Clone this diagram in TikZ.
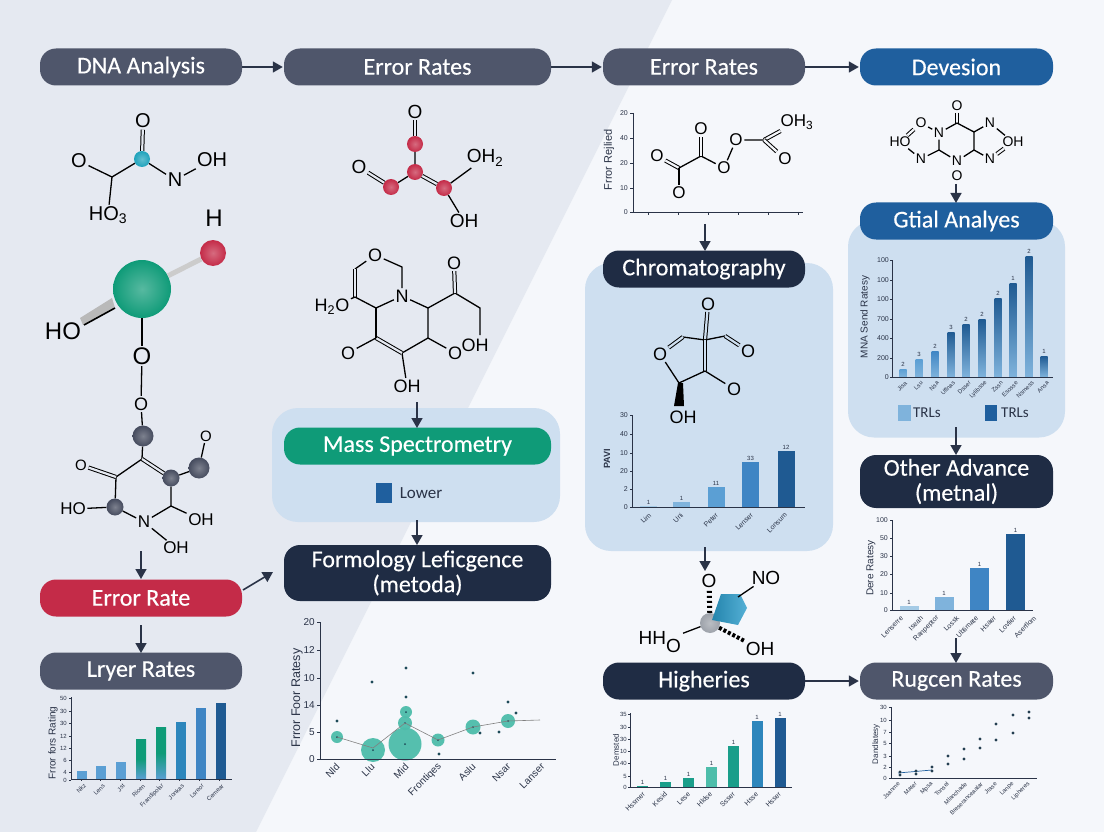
\documentclass[tikz,border=0pt]{standalone}
\usepackage{fontspec}
\setmainfont{Liberation Sans}
\setsansfont{Carlito}
\newfontfamily\pillfont[FakeBold=0.35]{Carlito}
\usepackage{xcolor}
\usepackage{tikz}
\usetikzlibrary{arrows.meta, shapes.geometric, calc}
\definecolor{bgleft}{HTML}{E5E9F1}
\definecolor{bgright}{HTML}{F5F7FB}
\definecolor{slatecolor}{HTML}{4F566B}
\definecolor{navycolor}{HTML}{1F2C44}
\definecolor{bluecolor}{HTML}{1F5F9E}
\definecolor{redcolor}{HTML}{C42B48}
\definecolor{greencolor}{HTML}{0F9B78}
\definecolor{panelcolor}{HTML}{CEDFF0}
\definecolor{arrowcolor}{HTML}{2A3347}
\definecolor{tealcolor}{HTML}{1A9E8A}
\definecolor{bubblecolor}{HTML}{4DBDAA}
\definecolor{barA}{HTML}{A5CBE6}
\definecolor{barB}{HTML}{7FB3DC}
\definecolor{barC}{HTML}{5B9FD4}
\definecolor{barD}{HTML}{3F85C4}
\definecolor{barE}{HTML}{1F5A92}
\definecolor{barF}{HTML}{2D86BC}
\definecolor{ballcolor}{HTML}{454B5E}
\definecolor{cyancolor}{HTML}{1FA3BC}
\definecolor{hexcolor}{HTML}{2A9CCB}
\definecolor{spherecolor}{HTML}{9DA2AA}
\newcommand{\fs}[1]{\fontsize{#1}{#1}\selectfont}
\tikzset{
  pill/.style={rectangle, rounded corners=16pt, text=white, minimum width=#1, minimum height=37pt, inner sep=0pt, font=\pillfont\fs{24}, align=center},
  panel/.style={rectangle, rounded corners=26pt, fill=panelcolor, inner sep=0pt},
  flow/.style={draw=arrowcolor, line width=1.6pt, -{Triangle[length=10pt,width=11pt]}},
  chem/.style={inner sep=1.5pt, text=black, font=\fs{#1}},
  bond/.style={draw=black, line width=1.3pt},
  dbond/.style={draw=black, line width=1pt, double=bgleft, double distance=2.2pt},
  atomball/.style={circle, inner sep=0pt, minimum size=#1},
  flatball/.style={inner color=#1!70!white, outer color=#1},
  axisline/.style={draw=arrowcolor, line width=0.8pt},
  ticktext/.style={inner sep=0pt, anchor=east, text=arrowcolor, font=\fs{7}},
  xlab/.style={inner sep=0pt, anchor=east, rotate=45, text=arrowcolor, font=\fs{7}},
  vallab/.style={inner sep=0pt, text=arrowcolor, font=\fs{6}},
  ylab/.style={inner sep=0pt, rotate=90, text=arrowcolor, font=\fs{#1}}
}
\begin{document}
\begin{tikzpicture}[x=1pt, y=-1pt]
    \useasboundingbox (0,0) rectangle (1104,832);

    % Background
    \fill[bgright] (0,0) rectangle (1104,832);
    \fill[bgleft] (0,0) -- (672,0) -- (256,832) -- (0,832) -- cycle;

    % Panels behind the pills
    \node[panel, minimum width=288pt, minimum height=114pt] (massbox) at (416,465) {};
    \node[panel, minimum width=248pt, minimum height=288pt] (chrombox) at (709,407) {};
    \node[panel, minimum width=217pt, minimum height=217pt] (gtialbox) at (956.5,329) {};

    % Pills
    \node[pill=202pt, fill=slatecolor] (dna) at (141,67) {DNA Analysis};
    \node[pill=267pt, fill=slatecolor] (errb) at (417.5,67) {Error Rates};
    \node[pill=202pt, fill=slatecolor] (errc) at (704,67) {Error Rates};
    \node[pill=193pt, fill=bluecolor] (dev) at (956.5,67) {Devesion};
    \node[pill=193pt, fill=bluecolor] (gtial) at (956.5,221) {Gtial Analyes};
    \node[pill=202pt, fill=navycolor] (chrom) at (704,269) {Chromatography};
    \node[pill=267pt, fill=greencolor] (mass) at (417.5,446) {Mass Spectrometry};
    \node[pill=202pt, fill=redcolor] (errrate) at (141,598) {Error Rate};
    \node[pill=202pt, fill=slatecolor] (lryer) at (141,671) {Lryer Rates};
    \node[pill=267pt, fill=navycolor, minimum height=56pt] (form) at (417.5,573) {Formology Leficgence\\[1pt](metoda)};
    \node[pill=193pt, fill=navycolor, minimum height=53pt] (other) at (956.5,481.5) {Other Advance\\[1pt](metnal)};
    \node[pill=202pt, fill=navycolor] (high) at (704,681) {Higheries};
    \node[pill=193pt, fill=slatecolor] (rugcen) at (956.5,681) {Rugcen Rates};

    % Free ends of the arrows
    \coordinate (arra) at (141,551);
    \coordinate (arrb) at (141,625);
    \coordinate (arrc) at (273,572);
    \coordinate (arrd) at (417,402);
    \coordinate (arre) at (417,520);
    \coordinate (arrf) at (417,545);
    \coordinate (arrg) at (705,224);
    \coordinate (arrh) at (705,547);
    \coordinate (arri) at (705,571);
    \coordinate (arrj) at (956,184);
    \coordinate (arrk) at (956,427);
    \coordinate (arrl) at (956,638);
    \coordinate (arrm) at (417,428);
    \coordinate (arrn) at (705,251);
    \coordinate (arro) at (956,203);
    \coordinate (arrp) at (956,455);
    \coordinate (arrq) at (956,663);
    \coordinate (arrs) at (243,590);
    \coordinate (arrt) at (141,579);
    \coordinate (arru) at (141,653);

    % Arrows
    \draw[flow, shorten >=1pt] (dna) -- (errb);
    \draw[flow, shorten >=1pt] (errb) -- (errc);
    \draw[flow, shorten >=1pt] (errc) -- (dev);
    \draw[flow, shorten >=1pt] (high) -- (rugcen);
    \draw[flow] (arra) -- (arrt);
    \draw[flow] (arrb) -- (arru);
    \draw[flow] (arrs) -- (arrc);
    \draw[flow] (arrd) -- (arrm);
    \draw[flow] (arre) -- (arrf);
    \draw[flow] (arrg) -- (arrn);
    \draw[flow] (arrh) -- (arri);
    \draw[flow] (arrj) -- (arro);
    \draw[flow] (arrk) -- (arrp);
    \draw[flow] (arrl) -- (arrq);

    % Molecule under DNA Analysis
    \node[chem=20] (ma1) at (143,121) {O};
    \node[atomball=16pt, flatball=cyancolor] (ma2) at (142,159) {};
    \node[chem=20] (ma3) at (79,161) {O};
    \node[chem=20] (ma4) at (175,180) {N};
    \node[chem=20] (ma5) at (212,160) {OH};
    \node[chem=20] (ma6) at (108,215) {HO\textsubscript{3}};
    \coordinate (ma7) at (112,177);
    \draw[dbond] (ma1) -- (ma2);
    \draw[bond] (ma3) -- (ma7) -- (ma2) -- (ma4) -- (ma5);
    \draw[bond] (ma7) -- (ma6);

    % Ball and stick molecule
    \node[chem=24] (mb1) at (214,218) {H};
    \node[chem=24] (mb2) at (63,331) {HO};
    \node[chem=24] (mb3) at (142,356) {O};
    \node[chem=18] (mb4) at (141,404) {O};
    \fill[gray!55] (80,318) -- (83,325) -- (115,308) -- (112,298) -- cycle;
    \draw[line width=1.6pt] (84,325) -- (115,308);
    \node[atomball=58pt, flatball=greencolor] (mb5) at (142,289) {};
    \node[atomball=26pt, flatball=redcolor] (mb6) at (213,253) {};
    \node[atomball=21pt, flatball=ballcolor] (mb7) at (143,436) {};
    \draw[gray!40, line width=5pt] (mb5) -- (mb6);
    \draw[bond] (mb5) -- (mb3);
    \draw[bond] (mb3) -- (mb4) -- (mb7);

    % Ring under the chain
    \node[atomball=17pt, flatball=ballcolor] (mc1) at (171,478) {};
    \node[atomball=21pt, flatball=ballcolor] (mc2) at (199,468) {};
    \node[atomball=17pt, flatball=ballcolor] (mc3) at (115,507) {};
    \node[chem=15] (mc4) at (206,436) {O};
    \node[chem=15] (mc5) at (81,465) {O};
    \node[chem=17] (mc6) at (73,509) {HO};
    \node[chem=17] (mc7) at (144,522) {N};
    \node[chem=17] (mc8) at (176,548) {OH};
    \node[chem=17] (mc9) at (201,520) {OH};
    \coordinate (mc10) at (142,459);
    \coordinate (mc11) at (116,477);
    \coordinate (mc12) at (171,506);
    \draw[bond] (mb7) -- (mc10) -- (mc11) -- (mc3) -- (mc7) -- (mc12) -- (mc1);
    \draw[dbond] (mc10) -- (mc1);
    \draw[dbond] (mc11) -- (mc5);
    \draw[bond] (mc1) -- (mc2) -- (mc4);
    \draw[bond] (mc3) -- (mc6);
    \draw[bond] (mc7) -- (mc8);
    \draw[bond] (mc12) -- (mc9);

    % Red molecule
    \node[chem=19] (md1) at (415,112) {O};
    \node[atomball=16pt, flatball=redcolor] (md2) at (415,144) {};
    \node[atomball=16pt, flatball=redcolor] (md3) at (415,172) {};
    \node[atomball=16pt, flatball=redcolor] (md4) at (391,187) {};
    \node[atomball=16pt, flatball=redcolor] (md5) at (444,188) {};
    \node[chem=19] (md6) at (359,167) {O};
    \node[chem=19] (md7) at (485,158) {OH\textsubscript{2}};
    \node[chem=19] (md8) at (464,221) {OH};
    \draw[dbond] (md1) -- (md2);
    \draw[bond] (md2) -- (md3) -- (md4);
    \draw[dbond] (md4) -- (md6);
    \draw[dbond] (md3) -- (md5);
    \draw[bond] (md5) -- (md7);
    \draw[bond] (md5) -- (md8);

    % Double ring molecule
    \node[chem=18] (me1) at (375,255) {O};
    \node[chem=18] (me2) at (402,296) {N};
    \node[chem=18] (me3) at (332,307) {H\textsubscript{2}O};
    \node[chem=18] (me4) at (454,263) {O};
    \node[chem=18] (me5) at (475,345) {OH};
    \node[chem=18] (me6) at (455,353) {O};
    \node[chem=18] (me7) at (407,386) {OH};
    \node[chem=18] (me8) at (348,353) {O};
    \coordinate (me9) at (355,269);
    \coordinate (me10) at (355,297);
    \coordinate (me11) at (376,308);
    \coordinate (me12) at (402,267);
    \coordinate (me13) at (428,308);
    \coordinate (me14) at (455,293);
    \coordinate (me15) at (480,308);
    \coordinate (me16) at (480,335);
    \coordinate (me17) at (428,338);
    \coordinate (me18) at (402,353);
    \coordinate (me19) at (376,338);
    \draw[bond] (me1) -- (me9);
    \draw[dbond] (me9) -- (me10);
    \draw[bond] (me10) -- (me11) -- (me2) -- (me12) -- (me1);
    \draw[bond] (me10) -- (me3);
    \draw[bond] (me2) -- (me13) -- (me14) -- (me15) -- (me16);
    \draw[dbond] (me14) -- (me4);
    \draw[bond] (me13) -- (me17) -- (me18) -- (me7);
    \draw[bond] (me17) -- (me6);
    \draw[dbond] (me18) -- (me19);
    \draw[bond] (me19) -- (me11);
    \draw[bond] (me19) -- (me8);

    % Mass Spectrometry legend
    \fill[bluecolor] (376,483) rectangle (392,503);
    \node[inner sep=0pt, text=arrowcolor, font=\sffamily\fs{17}] (masslow) at (421,493) {Lower};

    % Axis and molecule under the third pill
    \draw[axisline] (633,113) -- (633,212) -- (803,212);
    \foreach \y/\lab in {113/20,138/40,163/20,188/10,212/0} {
        \draw[axisline] (633,\y) -- ++(-3,0);
        \node[ticktext] (tka\y) at (628,\y) {\lab};
    }
    \foreach \x in {648,678,708,738,768,798} {\draw[axisline] (\x,212) -- ++(0,3);}
    \node[ylab=11] (ylaba) at (609,160) {Frror Rejlied};
    \node[chem=17] (mf1) at (657,156) {O};
    \node[chem=17] (mf2) at (679,193) {O};
    \node[chem=17] (mf3) at (701,129) {O};
    \node[chem=17] (mf4) at (724,168) {O};
    \node[chem=17] (mf5) at (736,140) {O};
    \node[chem=17] (mf6) at (797,122) {OH\textsubscript{3}};
    \node[chem=17] (mf7) at (785,159) {O};
    \coordinate (mf8) at (679,168);
    \coordinate (mf9) at (701,156);
    \coordinate (mf10) at (764,140);
    \draw[dbond, double=bgright] (mf1) -- (mf8);
    \draw[bond] (mf8) -- (mf2);
    \draw[bond] (mf8) -- (mf9) -- (mf4) -- (mf5) -- (mf10);
    \draw[dbond, double=bgright] (mf9) -- (mf3);
    \draw[dbond, double=bgright] (mf10) -- (mf6);
    \draw[dbond, double=bgright] (mf10) -- (mf7);

    % Molecule in the Chromatography panel
    \node[chem=18] (mg1) at (708,304) {O};
    \node[chem=18] (mg2) at (748,351) {O};
    \node[chem=18] (mg3) at (734,389) {O};
    \node[chem=18] (mg4) at (683,417) {OH};
    \node[chem=18] (mg5) at (660,354) {O};
    \coordinate (mg6) at (705,340);
    \coordinate (mg7) at (725,336);
    \coordinate (mg8) at (705,371);
    \coordinate (mg9) at (679,383);
    \coordinate (mg10) at (683,337);
    \draw[dbond, double=panelcolor] (mg1) -- (mg6);
    \draw[bond] (mg10) -- (mg6) -- (mg7);
    \draw[dbond, double=panelcolor] (mg7) -- (mg2);
    \draw[dbond, double=panelcolor] (mg6) -- (mg8);
    \draw[bond] (mg8) -- (mg3);
    \draw[bond] (mg8) -- (mg9) -- (mg5);
    \draw[dbond, double=panelcolor] (mg5) -- (mg10);
    \fill (678,383) -- (683,383) -- (684,406) -- (674,406) -- cycle;

    % Bar chart in the Chromatography panel
    \foreach \x/\h/\barcol/\val in {648.5/506/barA/1,681.5/502/barB/1,716/487/barC/11,750.5/462/barD/33,786/451/barE/12} {
        \fill[\barcol] (\x-8.5,507) rectangle (\x+8.5,\h);
        \node[vallab] (vala\val\barcol) at (\x,\h-4) {\val};
    }
    \draw[axisline] (632,415) -- (632,507) -- (805,507);
    \foreach \y/\lab in {415/30,434/40,453/10,471/20,489/2,507/0} {
        \draw[axisline] (632,\y) -- ++(-2,0);
        \node[ticktext] (tkb\y) at (628,\y) {\lab};
    }
    \foreach \x/\lab in {650/Lim,682/Uni,717/Peter,752/Lenser,786/Lonsum} {
        \node[xlab] (xb\x) at (\x,514) {\lab};
    }
    \node[ylab=9, font=\bfseries\fs{9}] (ylabb) at (607,459) {PAVI};

    % Molecule under Devesion
    \node[chem=14] (mh1) at (957,106) {O};
    \node[chem=14] (mh2) at (939,133) {N};
    \node[chem=14] (mh3) at (921,123) {O};
    \node[chem=14] (mh4) at (900,142) {HO};
    \node[chem=14] (mh5) at (921,159) {N};
    \node[chem=14] (mh6) at (957,161) {N};
    \node[chem=14] (mh7) at (990,159) {N};
    \node[chem=14] (mh8) at (1013,142) {OH};
    \node[chem=14] (mh9) at (990,123) {N};
    \node[chem=14] (mh10) at (957,176) {O};
    \coordinate (mh11) at (957,123);
    \coordinate (mh12) at (939,150);
    \coordinate (mh13) at (974,150);
    \coordinate (mh14) at (974,132);
    \draw[dbond, double=bgright] (mh1) -- (mh11);
    \draw[bond] (mh11) -- (mh2) -- (mh12) -- (mh6) -- (mh13) -- (mh14) -- (mh11);
    \draw[bond] (mh2) -- (mh3);
    \draw[dbond, double=bgright] (mh3) -- (mh4);
    \draw[bond] (mh4) -- (mh5) -- (mh12);
    \draw[bond] (mh13) -- (mh7);
    \draw[dbond, double=bgright] (mh7) -- (mh8);
    \draw[bond] (mh8) -- (mh9) -- (mh14);

    % Bar chart in the Gtial Analyes panel
    \foreach \x/\h/\barcol/\val in {903/369/barC/2,919/359/barC/3,935/351/barD/2,951/332/barE/3,966/324/barE/2,982/319/barE/2,998/298/barE/2,1013/283/barE/1,1029/256/barE/2,1044/356/barE/1} {
        \shade[bottom color=barB, top color=\barcol] (\x-3.5,377) rectangle (\x+3.5,\h);
        \node[vallab] (valb\x) at (\x,\h-5) {\val};
    }
    \draw[axisline] (892,260) -- (892,377) -- (1053,377);
    \foreach \y/\lab in {260/100,280/100,299/100,319/700,338/400,358/200,377/0} {
        \draw[axisline] (892,\y) -- ++(-2,0);
        \node[ticktext] (tkc\y) at (889,\y) {\lab};
    }
    \foreach \x/\lab in {906/Jisa,922/Lsu,938/Nsa,954/Uflnas,970/Dsser,986/Lylibsse,1002/Zssn,1017/Esosse,1033/Nsmess,1048/Ansa} {
        \node[xlab, font=\fs{6}] (xc\x) at (\x,382) {\lab};
    }
    \node[ylab=10] (ylabc) at (865,317) {MNA Send Ratesy};
    \fill[barB] (898,405) rectangle (911,421);
    \fill[bluecolor] (985,405) rectangle (997,421);
    \node[inner sep=0pt, text=arrowcolor, font=\sffamily\fs{15}] (lega) at (927,413) {TRLs};
    \node[inner sep=0pt, text=arrowcolor, font=\sffamily\fs{15}] (legb) at (1015,413) {TRLs};

    % Bar chart under Other Advance
    \foreach \x/\h/\barcol in {909/606/barA,944/597/barB,979.5/568/barD,1015.5/534/barE} {
        \fill[\barcol] (\x-9.5,610) rectangle (\x+9.5,\h);
        \node[vallab] (vald\x) at (\x,\h-4) {1};
    }
    \draw[axisline] (892,520) -- (892,610) -- (1033,610);
    \foreach \y/\lab in {520/100,538/50,556/30,574/20,593/10,610/0} {
        \draw[axisline] (892,\y) -- ++(-2,0);
        \node[ticktext] (tkd\y) at (888,\y) {\lab};
    }
    \foreach \x/\lab in {902/Lenserre,922/Iseah,938/Ranpeptor,958/Lossk,977/Ublimate,995/Hsaer,1015/Lovlier,1035/Aserflom} {
        \node[xlab] (xd\x) at (\x,617) {\lab};
    }
    \node[ylab=10] (ylabd) at (871,568) {Dere Ratesy};

    % Molecule above Higheries
    \node[chem=19] (mi1) at (709,581) {O};
    \node[chem=19] (mi2) at (766,578) {NO};
    \node[chem=19] (mi3) at (660,642) {HH\textsubscript{\fs{19}O}};
    \node[chem=19] (mi4) at (760,649) {OH};
    \node[atomball=20pt, flatball=spherecolor] (mi5) at (710,623) {};
    \draw[line width=5pt, dash pattern=on 2pt off 3pt] (mi5) -- (mi1);
    \draw[bond] (mi5) -- (mi3);
    \draw[line width=4pt, dash pattern=on 3pt off 2pt] (mi5) -- (mi4);
    \shade[left color=hexcolor!85!black, right color=hexcolor!80!white] (721,594) -- (740,594) -- (747,608) -- (738,625) -- (712,620) -- cycle;
    \coordinate (mi6) at (738,597);
    \draw[bond] (mi6) -- (mi2);

    % Bar chart under Higheries
    \foreach \x/\h/\barcol in {642.5/786/tealcolor,665.5/782/tealcolor,688.5/778/tealcolor,711.5/767/bubblecolor,733.5/746/tealcolor,757/721/barF,780/718/barE} {
        \fill[\barcol] (\x-5.5,787) rectangle (\x+5.5,\h);
        \node[vallab] (vale\x) at (\x,\h-4) {1};
    }
    \draw[axisline] (630,713) -- (630,787) -- (792,787);
    \foreach \y/\lab in {714/35,727/30,739/30,751/10,763/40,776/5,787/0} {
        \draw[axisline] (630,\y) -- ++(-2,0);
        \node[ticktext, font=\fs{6}] (tke\y) at (627,\y) {\lab};
    }
    \foreach \x/\lab in {644/Hssmer,666/Kesid,689/Lese,711/Hldse,734/Ssser,757/Hsse,780/Hsser} {
        \node[xlab] (xe\x) at (\x,793) {\lab};
    }
    \node[ylab=8] (ylabe) at (616,750) {Demsted};

    % Scatter under Rugcen Rates
    \draw[axisline] (891,707) -- (891,778) -- (1037,778);
    \foreach \y/\lab in {707/30,720/10,732/7,743/5,756/3,767/2,778/0} {
        \draw[axisline] (891,\y) -- ++(-2,0);
        \node[ticktext, font=\fs{6}] (tkf\y) at (887,\y) {\lab};
    }
    \draw[bluecolor, line width=0.7pt] (898,773) -- (932,770);
    \foreach \x/\ya/\yb in {900/772/775,916/771/774,932/767/771,948/756/764,964/749/759,980/739/748,996/724/740,1013/715/733,1029/712/718} {
        \fill[arrowcolor!85!teal] (\x,\ya) circle (1.6pt);
        \fill[arrowcolor!85!teal] (\x,\yb) circle (1.6pt);
    }
    \foreach \x/\lab in {899/Jsanme,916/Mater,932/Mpsa,948/Tonsel,966/Mlanchade,982/Breseranceaalar,996/Jrase,1013/Lanpe,1029/Lipheres} {
        \node[xlab, font=\fs{6}] (xf\x) at (\x,783) {\lab};
    }
    \node[ylab=8] (ylabf) at (876,744) {Dandlatesy};

    % Bar chart under Lryer Rates
    \foreach \x/\h/\barcol in {81.5/771/barC,101/766/barC,121/762/barC,181/722/barF,201/708/barD,221/703/barE} {
        \fill[\barcol] (\x-5,779) rectangle (\x+5,\h);
    }
    \shade[bottom color=barC, top color=greencolor, middle color=greencolor] (136,779) rectangle (146,739);
    \shade[bottom color=barC, top color=greencolor, middle color=greencolor] (156,779) rectangle (166,727);
    \draw[axisline] (71,697) -- (71,779) -- (232,779);
    \foreach \y/\lab in {698/50,711/30,723/30,736/12,748/12,760/6,772/4,780/0} {
        \draw[axisline] (71,\y) -- ++(-2,0);
        \node[ticktext, font=\fs{6}] (tkg\y) at (67,\y) {\lab};
    }
    \foreach \x/\lab in {85/Nkz,104/Lens,124/Jst,144/Ricen,163/Frandipolar,183/Jonkas,203/Lsreor,223/Cemear} {
        \draw[axisline] (\x-4,779) -- ++(0,2);
        \node[xlab, font=\fs{6}] (xg\x) at (\x,785) {\lab};
    }
    \node[ylab=10] (ylabg) at (53,743) {Frror fors Rating};

    % Bubble chart under Formology
    \foreach \x/\y/\r in {337/737/6,373/750/12,405/744/16.5,405/723/7,406/712/6,438/740/6.5,473/727/7.5,508/721/7} {
        \fill[bubblecolor, opacity=0.95] (\x,\y) circle (\r pt);
        \fill[arrowcolor!70!teal] (\x,\y) circle (1pt);
    }
    \draw[gray, line width=0.6pt] (337,737) -- (373,748) -- (405,723) -- (438,740) -- (473,727) -- (508,721) -- (540,720);
    \foreach \x/\y in {337/721,372/682,406/668,406/697,473/673,508/702,439/754,516/713,480/733,499/732} {
        \fill[arrowcolor!70!teal] (\x,\y) circle (1.7pt);
    }
    \draw[axisline] (320,622) -- (320,759) -- (556,759);
    \foreach \y/\lab in {622/20,650/12,678/10,705/14,732/5,759/0} {
        \draw[axisline] (320,\y) -- ++(-3,0);
        \node[ticktext, font=\fs{10}] (tkh\y) at (315,\y) {\lab};
    }
    \foreach \x/\lab in {338/Nld,373/Llu,407/Mid,440/Frontiqes,474/Aslu,509/Nsar,543/Lanser} {
        \node[xlab, font=\fs{10}] (xh\x) at (\x,765) {\lab};
    }
    \node[ylab=12.5] (ylabh) at (297,698) {Frror Foor Ratesy};
\end{tikzpicture}
\end{document}
